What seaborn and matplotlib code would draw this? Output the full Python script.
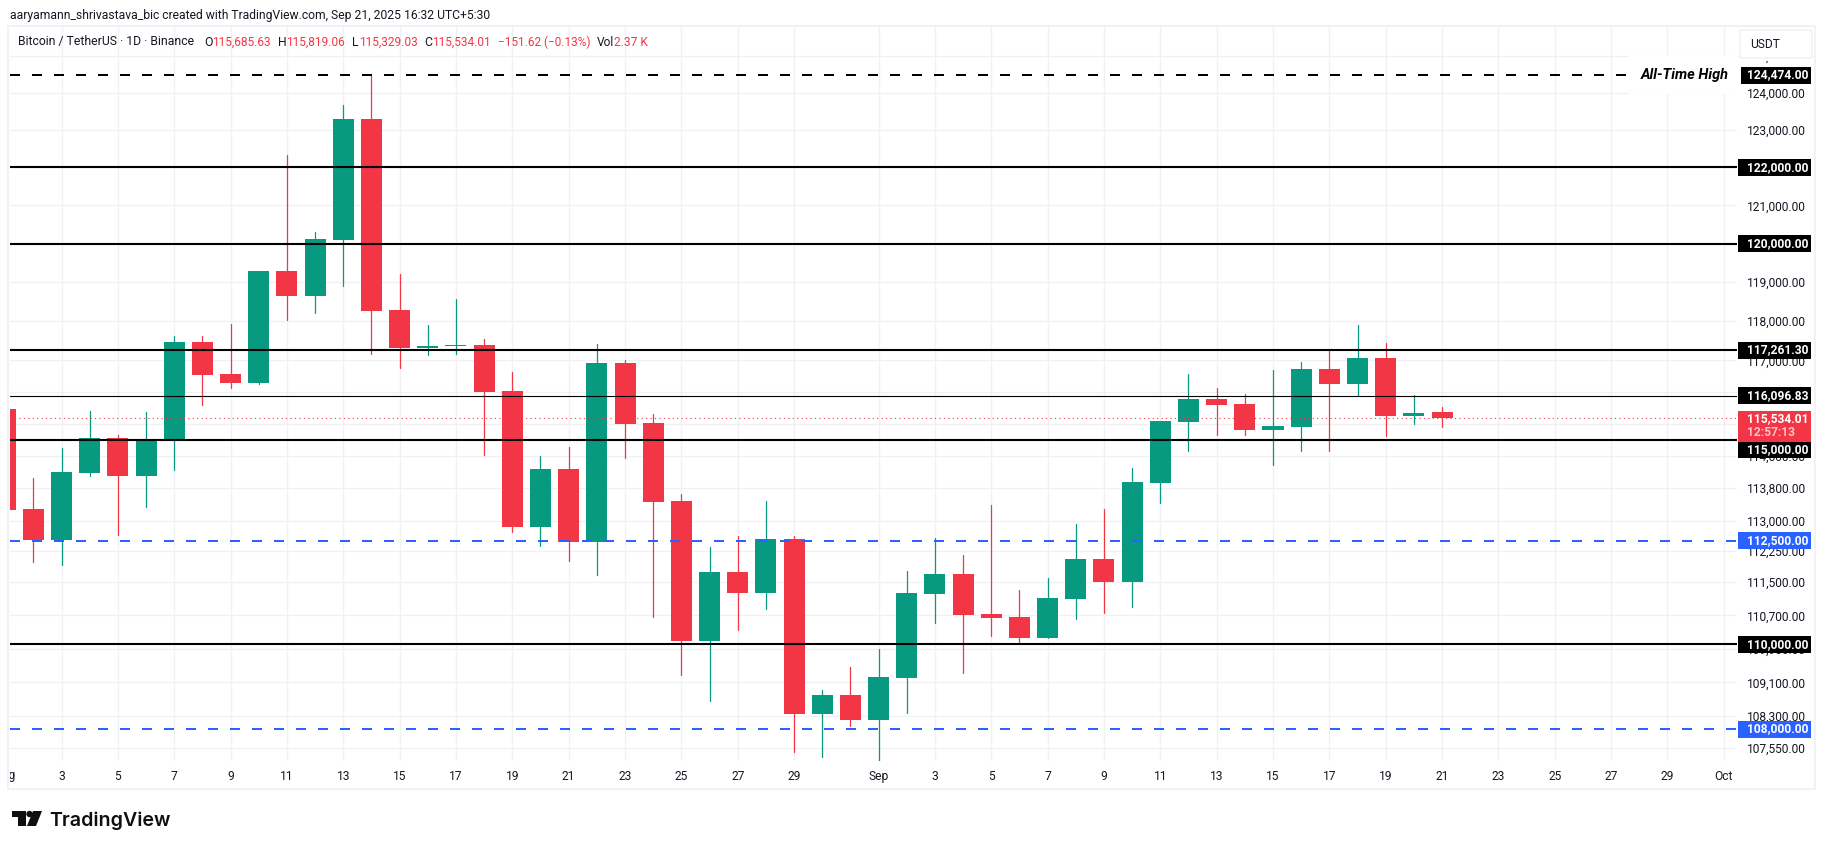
from __future__ import annotations

import matplotlib

matplotlib.use("Agg")
import matplotlib.pyplot as plt
import pandas as pd
import seaborn as sns
from matplotlib.patches import Circle, FancyBboxPatch, Polygon, Rectangle
from matplotlib.transforms import Bbox

W, H = 1825, 849
GREEN = "#089981"
RED = "#F23645"
BLUE = "#2962FF"
INK = "#131722"
GRID = "#F0F1F4"

# daily candles from 2025-08-01
opens = [115764, 113278, 112518, 114168, 115039, 114093, 114989, 117462, 116648, 116421,
         119287, 118641, 120093, 123291, 118281, 117309, 117360, 117385, 116219, 112836,
         114267, 112470, 116928, 115414, 113475, 110077, 111739, 111231, 112543, 108345,
         108793, 108204, 109196, 111207, 111690, 110726, 110652, 110148, 111086, 112055,
         111498, 113920, 115439, 116017, 115891, 115239, 115314, 116775, 116396, 117055,
         115590, 115685.63]
highs = [116050, 114040, 114789, 115716, 115114, 115691, 117615, 117615, 117922, 119300,
         122331, 120300, 123666, 124474, 119209, 117896, 118564, 117538, 116699, 114590,
         114814, 117411, 117004, 115640, 113649, 112347, 112615, 113475, 112615, 108911,
         109457, 109886, 111763, 112567, 112152, 113377, 111304, 111594, 112910, 113278,
         114292, 115470, 116648, 116294, 116143, 116750, 116953, 117258, 117896, 117436,
         116118, 115819.06]
lows = [112720, 111980, 111909, 114093, 112640, 113327, 114242, 115866, 116294, 116400,
        118024, 118204, 118899, 117156, 116801, 117131, 117156, 114615, 112713, 112372,
        112006, 111666, 114541, 110654, 109267, 108651, 110340, 110846, 107455, 107338,
        108064, 107245, 108368, 110508, 109315, 110198, 110005, 110148, 110604, 110750,
        110894, 113426, 114714, 115114, 115114, 114366, 114714, 114714, 116093, 115089,
        115389, 115329.03]
closes = [113253, 112518, 114192, 115039, 114093, 114989, 117462, 116623, 116421, 119287,
          118641, 120119, 123291, 118255, 117309, 117360, 117385, 116194, 112836, 114267,
          112469, 116928, 115389, 113450, 110076, 111739, 111231, 112543, 108345, 108793,
          108204, 109220, 111231, 111690, 110702, 110628, 110148, 111110, 112055, 111498,
          113944, 115464, 116017, 115866, 115239, 115339, 116775, 116396, 117055, 115590,
          115665, 115534.01]

solid_levels = [122000, 120000, 117261.30, 115000, 110000]
thin_levels = [116096.83]
blue_levels = [112500, 108000]
ath_level = 124474
last_price = 115534.01

price_ticks = [125000, 124000, 123000, 122000, 121000, 120000, 119000, 118000, 117000,
               116200, 115400, 114600, 113800, 113000, 112250, 111500, 110700, 109900,
               109100, 108300, 107550]
date_ticks = ["08-03", "08-05", "08-07", "08-09", "08-11", "08-13", "08-15",
              "08-17", "08-19", "08-21", "08-23", "08-25", "08-27", "08-29", "09-01",
              "09-03", "09-05", "09-07", "09-09", "09-11", "09-13", "09-15", "09-17",
              "09-19", "09-21", "09-23", "09-25", "09-27", "09-29", "10-01"]
date_labels = ["3", "5", "7", "9", "11", "13", "15", "17", "19", "21", "23", "25",
               "27", "29", "Sep", "3", "5", "7", "9", "11", "13", "15", "17", "19", "21",
               "23", "25", "27", "29", "Oct"]

header = "aaryamann_shrivastava_bic created with TradingView.com, Sep 21, 2025 16:32 UTC+5:30"
symbol = "Bitcoin / TetherUS · 1D · Binance"
ohlc_names = ["O", "H", "L", "C"]
ohlc_values = ["115,685.63", "115,819.06", "115,329.03", "115,534.01"]
change = "−151.62 (−0.13%)"
volume = "2.37 K"


def fx(px: float) -> float:
    return px / W


def fy(py: float) -> float:
    return 1 - py / H


def add_text(fig, px, py, s, size=12, color=INK, ha="left", va="center", zorder=6, **kw):
    return fig.text(fx(px), fy(py), s, fontsize=size * 0.72, color=color, ha=ha, va=va, zorder=zorder, **kw)


def add_rect(fig, x0, y0, x1, y1, color, zorder=5):
    fig.add_artist(Rectangle((fx(x0), fy(y1)), (x1 - x0) / W, (y1 - y0) / H, transform=fig.transFigure,
                             facecolor=color, edgecolor="none", zorder=zorder))


def price_y(ax, price: float) -> float:
    return H - ax.transData.transform((0, price))[1]


def add_tag(fig, ax, price, text, color, shift=0.0):
    y = price_y(ax, price) + shift
    add_rect(fig, 1738, y - 8.5, 1811, y + 8.5, color)
    add_text(fig, 1747, y, text, color="white", fontweight="bold")


def draw_chrome(fig, ax):
    fig.add_artist(Rectangle((fx(8), fy(789)), 1807 / W, 763 / H, transform=fig.transFigure,
                             facecolor="none", edgecolor="#F1F2F5", linewidth=1.5, zorder=1))
    add_text(fig, 10, 15, header, size=12.1)
    add_text(fig, 18, 42, symbol, size=12.3)
    name_x = [204, 278, 352, 424]
    value_x = [212, 286, 359, 432]
    for name, nx, value, vx in zip(ohlc_names, name_x, ohlc_values, value_x):
        add_text(fig, nx, 42, name, size=12.3)
        add_text(fig, vx, 42, value, size=11.9, color=RED)
    add_text(fig, 498, 42, change, size=11.7, color=RED)
    add_text(fig, 597, 42, "Vol", size=12)
    add_text(fig, 614, 42, volume, size=12, color=RED)

    # the Aug tick sits left of the plot, only the end of its word shows
    aug = add_text(fig, 5.3, 775, "Aug", ha="center")
    aug.set_clip_on(True)
    aug.set_clip_box(Bbox.from_extents(10, 0, W, H))

    y = price_y(ax, ath_level)
    add_text(fig, 1729, y, "All-Time High", size=14.5, color="black", ha="right", fontweight="bold", fontstyle="italic",
             bbox=dict(facecolor="white", edgecolor="none", pad=9))

    for level in [122000, 120000, 117261.30, 110000, 124474]:
        label = f"{level:,.2f}"
        add_tag(fig, ax, level, label, "black")
    add_tag(fig, ax, 116096.83, "116,096.83", "black")
    add_tag(fig, ax, 115000, "115,000.00", "black", shift=10)
    for level in blue_levels:
        add_tag(fig, ax, level, f"{level:,.2f}", BLUE)
    add_rect(fig, 1738, 411, 1811, 442, RED, zorder=5.5)
    add_text(fig, 1747, 419, "115,534.01", color="white", fontweight="bold")
    add_text(fig, 1747, 433, "12:57:13", color="#FBC3C9", fontweight="bold")

    add_rect(fig, 1738, 30, 1814, 60.5, "white", zorder=6.5)
    fig.add_artist(FancyBboxPatch((fx(1742), fy(57)), 68 / W, 26 / H, boxstyle="round,pad=0.001", transform=fig.transFigure,
                                  facecolor="white", edgecolor="#EEF0F3", linewidth=1, zorder=7))
    add_text(fig, 1750, 44, "USDT", zorder=8)

    # logo
    tee = [(12, 811), (26, 811), (26, 826), (18, 826), (18, 817), (12, 817)]
    slash = [(33, 811), (42, 811), (36, 826), (27, 826)]
    for shape in (tee, slash):
        fig.add_artist(Polygon([(fx(a), fy(b)) for a, b in shape], transform=fig.transFigure, facecolor="#0F0F0F", edgecolor="none"))
    fig.add_artist(Circle((29.5, H - 814), 3.2, transform=None, facecolor="#0F0F0F", edgecolor="none"))
    add_text(fig, 49, 826, "TradingView", size=19.6, color="#0F0F0F", va="baseline", family="Inter", fontweight="semibold")


def main() -> None:
    sns.set_theme(style="white")
    plt.rcParams["font.family"] = ["Roboto", "DejaVu Sans"]

    dates = pd.date_range("2025-08-01", periods=len(opens))
    candles = pd.DataFrame({"date": dates, "open": opens, "high": highs, "low": lows, "close": closes})
    candles["side"] = ["up" if c >= o else "down" for o, c in zip(opens, closes)]
    wicks = candles.melt(id_vars=["date", "side"], value_vars=["high", "low"], value_name="price")
    colors = {"up": GREEN, "down": RED}

    fig = plt.figure(figsize=(W / 100, H / 100), dpi=100)
    ax = fig.add_axes([fx(10), 1 - 761 / H, 1727 / W, 734 / H])

    sns.lineplot(data=wicks, x="date", y="price", hue="side", units="date", estimator=None, palette=colors,
                 linewidth=0.9, legend=False, zorder=2, ax=ax)
    ax.bar(candles["date"], (candles["close"] - candles["open"]).abs(), bottom=candles[["open", "close"]].min(axis=1),
           width=0.746, color=candles["side"].map(colors), linewidth=0, zorder=3)

    ax.set_yscale("log")

    for level in solid_levels:
        ax.axhline(level, color="black", linewidth=1.5, zorder=4)
    for level in thin_levels:
        ax.axhline(level, color="black", linewidth=0.8, zorder=4)
    dash = (0, (5, 6))
    ax.axhline(ath_level, color="black", linewidth=1.44, linestyle=dash, dash_capstyle="butt", zorder=4)
    for level in blue_levels:
        ax.axhline(level, color=BLUE, linewidth=1.44, linestyle=dash, dash_capstyle="butt", zorder=4)
    ax.axhline(last_price, color=RED, linewidth=0.8, linestyle=(0, (1, 3)), zorder=3.5)

    ax.yaxis.tick_right()
    ax.minorticks_off()
    ax.set_yticks(price_ticks, [f"{p:,.2f}" for p in price_ticks])
    ax.set_xticks(pd.to_datetime(["2025-" + d for d in date_ticks]), date_labels)
    ax.minorticks_off()
    ax.tick_params(axis="both", length=0, labelsize=12 * 0.72, labelcolor=INK)
    ax.tick_params(axis="y", pad=7.2)
    ax.tick_params(axis="x", pad=6.5)
    ax.grid(True, color=GRID, linewidth=1.0)
    ax.set_axisbelow(True)
    ax.set_xlabel("")
    ax.set_ylabel("")
    sns.despine(ax=ax, left=True, bottom=True, top=True, right=True)

    # limits go last, set_xticks can widen them
    ax.set_ylim(107253, 125778)
    start = pd.Timestamp("2025-08-01")
    ax.set_xlim(start + pd.Timedelta(days=0.17), start + pd.Timedelta(days=61.47))

    draw_chrome(fig, ax)
    fig.savefig("out.png", dpi=100)
    plt.close(fig)


if __name__ == "__main__":
    main()
